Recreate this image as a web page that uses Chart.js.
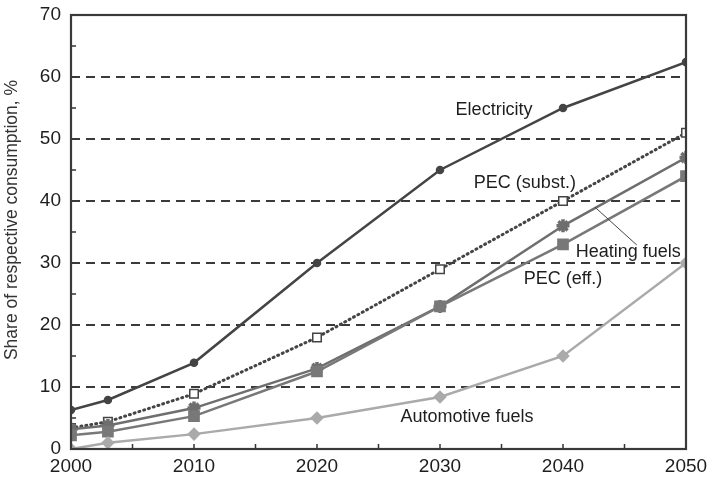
<!DOCTYPE html>
<html>
<head>
<meta charset="utf-8">
<script src="https://cdn.jsdelivr.net/npm/chart.js@4/dist/chart.umd.min.js"></script>
<style>
  html, body { margin: 0; padding: 0; background: #fff; }
  #wrap { width: 710px; height: 479px; }
</style>
</head>
<body>
<div id="wrap"><canvas id="chart" width="710" height="479"></canvas></div>
<script>
// data
const years = [2000, 2003, 2010, 2020, 2030, 2040, 2050];
const electricity = [6.3, 7.9, 13.9, 30, 45, 55, 62.4];
const pecSubst = [3.4, 4.4, 8.9, 18, 29, 40, 51];
const heatingFuels = [3.2, 3.8, 6.6, 13, 23, 36, 47];
const pecEff = [2.2, 2.8, 5.3, 12.5, 23, 33, 44];
const automotiveFuels = [0, 1, 2.4, 5, 8.4, 15, 30];
const xTicks = [2000, 2010, 2020, 2030, 2040, 2050];
const yTicks = [0, 10, 20, 30, 40, 50, 60, 70];
const yTitle = "Share of respective consumption, %";

// text labels placed in data space
const notes = [
  { text: "Electricity", x: 2034.4, y: 54.7 },
  { text: "PEC (subst.)", x: 2036.9, y: 42.9 },
  { text: "Heating fuels", x: 2045.3, y: 31.8 },
  { text: "PEC (eff.)", x: 2040.0, y: 27.4 },
  { text: "Automotive fuels", x: 2032.2, y: 5.2 }
];

const FONT = "'Liberation Sans', Arial, sans-serif";
const toPts = (vals) => vals.map((v, i) => ({ x: years[i], y: v }));

const framePlugin = {
  id: "frame",
  afterDraw(chart) {
    const { ctx, chartArea: a, scales } = chart;
    const xs = scales.x, ys = scales.y;
    ctx.save();
    ctx.strokeStyle = "#333";
    ctx.lineWidth = 1.5;
    // minor ticks inside the frame
    for (let v = 5; v < 70; v += 10) {
      const py = ys.getPixelForValue(v);
      ctx.beginPath();
      ctx.moveTo(a.left, py);
      ctx.lineTo(a.left + 5, py);
      ctx.stroke();
    }
    for (let v = 2005; v < 2050; v += 5) {
      const px = xs.getPixelForValue(v);
      ctx.beginPath();
      ctx.moveTo(px, a.bottom);
      ctx.lineTo(px, a.bottom - 5);
      ctx.stroke();
    }
    ctx.lineWidth = 2.2;
    ctx.strokeStyle = "#3a3a3a";
    ctx.strokeRect(a.left, a.top, a.right - a.left, a.bottom - a.top);

    // leader line for heating fuels
    ctx.lineWidth = 1;
    ctx.strokeStyle = "#444";
    ctx.beginPath();
    ctx.moveTo(xs.getPixelForValue(2042.6), ys.getPixelForValue(39.0));
    ctx.lineTo(xs.getPixelForValue(2046.0), ys.getPixelForValue(32.9));
    ctx.stroke();

    ctx.fillStyle = "#1e1e1e";
    ctx.font = "18px " + FONT;
    ctx.textAlign = "center";
    ctx.textBaseline = "middle";
    notes.forEach(n => {
      ctx.fillText(n.text, xs.getPixelForValue(n.x), ys.getPixelForValue(n.y));
    });

    // y axis title
    ctx.translate(12, 220);
    ctx.rotate(-Math.PI / 2);
    ctx.font = "17.5px " + FONT;
    ctx.fillStyle = "#333";
    ctx.fillText(yTitle, 0, 0);
    ctx.restore();
  }
};

const ctx = document.getElementById("chart").getContext("2d");
new Chart(ctx, {
  type: "line",
  data: {
    datasets: [
      {
        label: "Automotive fuels",
        data: toPts(automotiveFuels),
        borderColor: "#aaa",
        backgroundColor: "#aaa",
        borderWidth: 2.5,
        pointStyle: "rectRot",
        pointRadius: 5
      },
      {
        label: "PEC (eff.)",
        data: toPts(pecEff),
        borderColor: "#787878",
        backgroundColor: "#787878",
        borderWidth: 2.5,
        pointStyle: "rect",
        pointRadius: 6.5
      },
      {
        label: "Heating fuels",
        data: toPts(heatingFuels),
        borderColor: "#6e6e6e",
        backgroundColor: "#6e6e6e",
        borderWidth: 2.5,
        pointStyle: "star",
        pointRadius: 6.5,
        pointBorderWidth: 3.5
      },
      {
        label: "PEC (subst.)",
        data: toPts(pecSubst),
        borderColor: "#444",
        backgroundColor: "#fff",
        borderWidth: 3,
        borderDash: [1, 4],
        borderCapStyle: "round",
        pointStyle: "rect",
        pointRadius: 6,
        pointBorderWidth: 1.5
      },
      {
        label: "Electricity",
        data: toPts(electricity),
        borderColor: "#444",
        backgroundColor: "#444",
        borderWidth: 2.5,
        pointStyle: "circle",
        pointRadius: 3
      }
    ]
  },
  options: {
    responsive: false,
    animation: false,
    layout: { padding: { top: 15, right: 24, left: 0, bottom: 0 } },
    plugins: { legend: { display: false }, tooltip: { enabled: false } },
    scales: {
      x: {
        type: "linear",
        min: 2000,
        max: 2050,
        afterBuildTicks: (s) => { s.ticks = xTicks.map(v => ({ value: v })); },
        afterFit: (s) => { s.height = 30; s.paddingLeft = 0; s.paddingRight = 0; },
        grid: { display: false, drawTicks: false },
        border: { display: false },
        ticks: {
          color: "#1e1e1e",
          padding: 6,
          font: { size: 19, family: FONT },
          callback: (v) => String(v)
        }
      },
      y: {
        min: 0,
        max: 70,
        afterBuildTicks: (s) => { s.ticks = yTicks.map(v => ({ value: v })); },
        afterFit: (s) => { s.width = 71; s.paddingTop = 0; s.paddingBottom = 0; },
        grid: {
          drawTicks: false,
          color: (c) => (c.tick && (c.tick.value === 0 || c.tick.value === 70)) ? "rgba(0,0,0,0)" : "#3a3a3a",
          lineWidth: 2
        },
        border: { display: false, dash: [9, 6] },
        ticks: {
          color: "#1e1e1e",
          padding: 10,
          font: { size: 19, family: FONT }
        }
      }
    }
  },
  plugins: [framePlugin]
});
</script>
</body>
</html>
